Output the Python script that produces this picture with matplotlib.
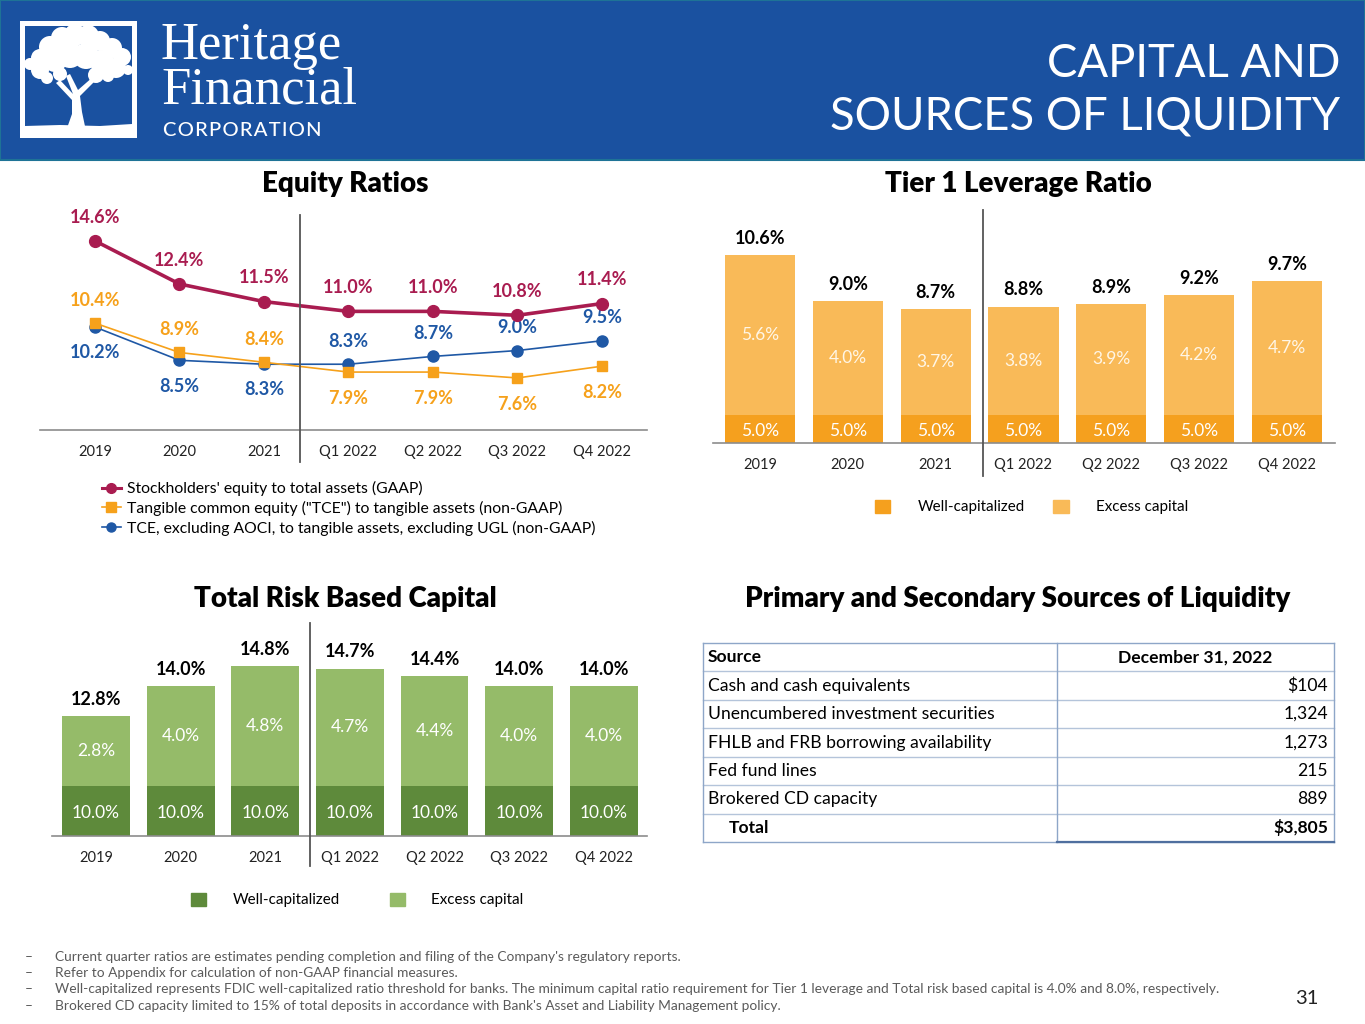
import matplotlib
matplotlib.use("Agg")
import matplotlib.pyplot as plt
import matplotlib.transforms as mtransforms
from matplotlib.patches import Rectangle, Circle, Polygon, Patch
from matplotlib.lines import Line2D

plt.rcParams['font.family'] = ['Lato', 'DejaVu Sans']

# ---------------- data ----------------
periods = ["2019", "2020", "2021", "Q1 2022", "Q2 2022", "Q3 2022", "Q4 2022"]

eq_gaap = [14.6, 12.4, 11.5, 11.0, 11.0, 10.8, 11.4]
eq_tce = [10.4, 8.9, 8.4, 7.9, 7.9, 7.6, 8.2]
eq_tce_ex = [10.2, 8.5, 8.3, 8.3, 8.7, 9.0, 9.5]
eq_series_names = ["Stockholders' equity to total assets (GAAP)",
                   "Tangible common equity (\"TCE\") to tangible assets (non-GAAP)",
                   "TCE, excluding AOCI, to tangible assets, excluding UGL (non-GAAP)"]

t1_well = [5.0, 5.0, 5.0, 5.0, 5.0, 5.0, 5.0]
t1_excess = [5.6, 4.0, 3.7, 3.8, 3.9, 4.2, 4.7]
t1_total = [10.6, 9.0, 8.7, 8.8, 8.9, 9.2, 9.7]
t1_min = 4.0

rb_well = [10.0, 10.0, 10.0, 10.0, 10.0, 10.0, 10.0]
rb_excess = [2.8, 4.0, 4.8, 4.7, 4.4, 4.0, 4.0]
rb_total = [12.8, 14.0, 14.8, 14.7, 14.4, 14.0, 14.0]
rb_min = 8.0

liq_sources = ["Cash and cash equivalents", "Unencumbered investment securities",
               "FHLB and FRB borrowing availability", "Fed fund lines",
               "Brokered CD capacity"]
liq_values = ["$104", "1,324", "1,273", "215", "889"]
liq_total = "$3,805"

footnotes = [
    "Current quarter ratios are estimates pending completion and filing of the Company's regulatory reports.",
    "Refer to Appendix for calculation of non-GAAP financial measures.",
    "Well-capitalized represents FDIC well-capitalized ratio threshold for banks. The minimum capital ratio requirement for Tier 1 leverage and Total risk based capital is 4.0% and 8.0%, respectively.",
    "Brokered CD capacity limited to 15% of total deposits in accordance with Bank's Asset and Liability Management policy.",
]

# ---------------- colors ----------------
HEADER = "#1A51A0"
RED = "#A91C50"
ORANGE = "#F6A11B"
BLUE = "#1F58A5"
T1_DARK = "#F5A01E"
T1_LIGHT = "#F9BA58"
RB_DARK = "#5E8A3B"
RB_LIGHT = "#95BB69"
GRAY = "#8C8C8C"

W, H = 1365, 1024
fig = plt.figure(figsize=(W / 100, H / 100), dpi=100)

bg = fig.add_axes([0, 0, 1, 1], zorder=0)
bg.set_xlim(0, W)
bg.set_ylim(H, 0)
bg.axis('off')


def add_ax(left, top, right, bottom):
    ax = fig.add_axes([left / W, 1 - bottom / H, (right - left) / W, (bottom - top) / H], zorder=2)
    ax.patch.set_alpha(0)
    return ax


# ---------------- header ----------------
bg.add_patch(Rectangle((0, 0), W, 160, facecolor=HEADER, edgecolor="#1E7396", lw=1.5))
# logo square
bg.add_patch(Rectangle((20, 21), 117, 117, facecolor="white", edgecolor="none"))
bg.add_patch(Rectangle((25, 26), 107, 104, facecolor=HEADER, edgecolor="none"))
# tree canopy
for cx, cy, r in [(40, 58, 9), (50, 47, 11), (62, 38, 11), (75, 35, 11), (88, 36, 11),
                  (100, 41, 10), (112, 48, 10), (122, 57, 9), (116, 68, 10), (102, 62, 12),
                  (86, 56, 13), (70, 55, 13), (55, 60, 12), (40, 70, 9), (30, 64, 6),
                  (128, 70, 5), (96, 75, 8), (60, 74, 7), (47, 78, 6), (108, 76, 6)]:
    bg.add_patch(Circle((cx, cy), r, facecolor="white", edgecolor="none"))
# trunk and branches
bg.add_patch(Polygon([(66, 131), (86, 131), (82, 112), (80, 96), (98, 78), (94, 76), (78, 90),
                      (70, 74), (66, 76), (73, 94), (60, 80), (56, 83), (72, 100), (72, 114)],
                     closed=True, facecolor="white", edgecolor="none"))
bg.add_patch(Polygon([(25, 130), (25, 126), (60, 125), (100, 126), (132, 124), (132, 130)],
                     closed=True, facecolor="white", edgecolor="none"))
bg.text(161, 46, "Heritage", family=["Liberation Serif", "DejaVu Serif"], fontsize=38,
        color="white", va="center", ha="left")
bg.text(161, 91, "Financial", family=["Liberation Serif", "DejaVu Serif"], fontsize=38,
        color="white", va="center", ha="left")
bg.text(163, 130, "C O R P O R A T I O N".replace(" ", "\u200a"), fontsize=14.5, color="white",
        va="center", ha="left", fontweight="medium")
bg.text(1340, 64, "CAPITAL AND", fontsize=32.8, color="white", ha="right", va="center")
bg.text(1340, 117, "SOURCES OF LIQUIDITY", fontsize=32.8, color="white", ha="right", va="center")

# ---------------- section titles ----------------
for x, y, t in [(345, 184, "Equity Ratios"), (1018, 184, "Tier 1 Leverage Ratio"),
                (345, 599, "Total Risk Based Capital"),
                (1018, 599, "Primary and Secondary Sources of Liquidity")]:
    bg.text(x, y, t, fontsize=20, fontweight="heavy", color="black", ha="center", va="center")


def style_axis(ax):
    for s in ["top", "right", "left"]:
        ax.spines[s].set_visible(False)
    ax.spines["bottom"].set_color(GRAY)
    ax.spines["bottom"].set_linewidth(1.2)
    ax.set_yticks([])
    ax.tick_params(axis="x", length=0, labelsize=10.5, pad=10.5, colors="#222222")


def separator(ax, xpos, y_top_frac, y_bot_frac):
    tr = mtransforms.blended_transform_factory(ax.transData, ax.transAxes)
    ax.plot([xpos, xpos], [y_bot_frac, y_top_frac], transform=tr, color="#555555",
            lw=1.3, clip_on=False, zorder=5)


x = list(range(len(periods)))

# ---------------- Equity ratios ----------------
ax1 = add_ax(40, 200, 647, 430)
ax1.set_xlim(-0.651, 6.533)
ax1.set_ylim(4.94, 16.69)
style_axis(ax1)
ax1.set_xticks(x)
ax1.set_xticklabels(periods)
ax1.plot(x, eq_gaap, color=RED, lw=2.6, marker="o", ms=8.5, zorder=4)
ax1.plot(x, eq_tce_ex, color=BLUE, lw=1.2, marker="o", ms=8, zorder=3)
ax1.plot(x, eq_tce, color=ORANGE, lw=1.2, marker="s", ms=7.5, zorder=3)
separator(ax1, 2.43, 1 - 15 / 230, -32 / 230)

for i, v in enumerate(eq_gaap):
    ax1.annotate(f"{v:.1f}%", (i, v), xytext=(0, 17), textcoords="offset points",
                 ha="center", va="center", fontsize=13, fontweight="bold", color=RED)
for i, v in enumerate(eq_tce):
    dy = 16.5 if i < 3 else -19
    ax1.annotate(f"{v:.1f}%", (i, v), xytext=(0, dy), textcoords="offset points",
                 ha="center", va="center", fontsize=13, fontweight="bold", color=ORANGE)
for i, v in enumerate(eq_tce_ex):
    dy = -18.5 if i < 3 else 16.5
    ax1.annotate(f"{v:.1f}%", (i, v), xytext=(0, dy), textcoords="offset points",
                 ha="center", va="center", fontsize=13, fontweight="bold", color=BLUE)

eq_handles = [Line2D([], [], color=RED, lw=2.2, marker="o", ms=7),
              Line2D([], [], color=ORANGE, lw=1.2, marker="s", ms=6.5),
              Line2D([], [], color=BLUE, lw=1.2, marker="o", ms=6.5)]
fig.legend(eq_handles, eq_series_names, loc="upper left",
           bbox_to_anchor=(102 / W, 1 - 481 / H), frameon=False, fontsize=11.3,
           handlelength=1.2, handletextpad=0.4, labelspacing=0.3, borderpad=0,
           borderaxespad=0)


# ---------------- stacked bar helper ----------------
def stacked(ax, well, excess, total, ymin, dark, light, excess_color):
    ax.bar(x, well, width=0.8, color=dark, zorder=2)
    ax.bar(x, excess, width=0.8, bottom=well, color=light, zorder=2)
    for i in x:
        ax.annotate(f"{well[i]:.1f}%", (i, (ymin + well[i]) / 2), xytext=(0, -1.5),
                    textcoords="offset points", ha="center", va="center",
                    fontsize=12.5, color="white", zorder=3)
        ax.text(i, well[i] + excess[i] / 2, f"{excess[i]:.1f}%", ha="center", va="center",
                fontsize=12.5, color=excess_color, zorder=3)
        ax.annotate(f"{total[i]:.1f}%", (i, total[i]), xytext=(0, 12),
                    textcoords="offset points", ha="center", va="center",
                    fontsize=13, fontweight="bold", color="black")


# ---------------- Tier 1 leverage ----------------
ax2 = add_ax(713, 210, 1335, 443)
ax2.set_xlim(-0.535, 6.547)
ax2.set_ylim(t1_min, 12.2)
style_axis(ax2)
ax2.set_xticks(x)
ax2.set_xticklabels(periods)
stacked(ax2, t1_well, t1_excess, t1_total, t1_min, T1_DARK, T1_LIGHT, "#FFF6E6")
separator(ax2, 2.54, 1.0, -33 / 233)
fig.legend([Patch(color=T1_DARK), Patch(color=T1_LIGHT)], ["Well-capitalized", "Excess capital"],
           loc="center left", bbox_to_anchor=(875 / W, 1 - 507 / H), ncol=2, frameon=False,
           fontsize=10.9, handlelength=1.0, handleheight=1.0, handletextpad=1.8,
           columnspacing=1.9, borderpad=0, borderaxespad=0)

# ---------------- Total risk based capital ----------------
ax3 = add_ax(52, 623, 647, 836)
ax3.set_xlim(-0.52, 6.51)
ax3.set_ylim(rb_min, 16.52)
style_axis(ax3)
ax3.set_xticks(x)
ax3.set_xticklabels(periods)
stacked(ax3, rb_well, rb_excess, rb_total, rb_min, RB_DARK, RB_LIGHT, "white")
separator(ax3, 2.53, 1.0, -30 / 213)
fig.legend([Patch(color=RB_DARK), Patch(color=RB_LIGHT)], ["Well-capitalized", "Excess capital"],
           loc="center left", bbox_to_anchor=(191 / W, 1 - 900 / H), ncol=2, frameon=False,
           fontsize=10.9, handlelength=1.0, handleheight=1.0, handletextpad=1.75,
           columnspacing=3.3, borderpad=0, borderaxespad=0)

# ---------------- liquidity table ----------------
tx0, tx1, tx2 = 703, 1057, 1334
ty0, rh = 643, 28.43
nrows = len(liq_sources) + 2
line_c = "#B4C4DA"
for r in range(nrows + 1):
    yy = ty0 + r * rh
    bg.plot([tx0, tx2], [yy, yy], color=line_c if 0 < r < nrows else "#8EA6C8", lw=1)
for xx in (tx0, tx1, tx2):
    bg.plot([xx, xx], [ty0, ty0 + nrows * rh], color="#8EA6C8", lw=1)
bg.plot([tx1, tx2], [ty0 + nrows * rh, ty0 + nrows * rh], color="#4F6F9F", lw=1.6)

TFS = 12.6
bg.text(708, ty0 + rh / 2, "Source", fontsize=TFS, fontweight="bold", va="center", ha="left")
bg.text(1195, ty0 + rh / 2, "December 31, 2022", fontsize=TFS, fontweight="bold",
        va="center", ha="center")
for k, (s, v) in enumerate(zip(liq_sources, liq_values)):
    yc = ty0 + (k + 1.5) * rh
    bg.text(708, yc, s, fontsize=TFS, va="center", ha="left")
    bg.text(1328, yc, v, fontsize=TFS, va="center", ha="right")
yc = ty0 + (nrows - 0.5) * rh
bg.text(729, yc, "Total", fontsize=TFS, fontweight="bold", va="center", ha="left")
bg.text(1328, yc, liq_total, fontsize=TFS, fontweight="bold", va="center", ha="right")

# ---------------- footnotes ----------------
for k, t in enumerate(footnotes):
    yy = 957 + k * 16.2
    bg.text(25, yy, "\u2013", fontsize=9.9, color="#5A5A5A", va="center", ha="left")
    bg.text(55, yy, t, fontsize=9.9, color="#5A5A5A", va="center", ha="left")
bg.text(1307, 999, "31", fontsize=14.5, color="#222222", va="center", ha="center")

fig.savefig("out.png", dpi=100)
